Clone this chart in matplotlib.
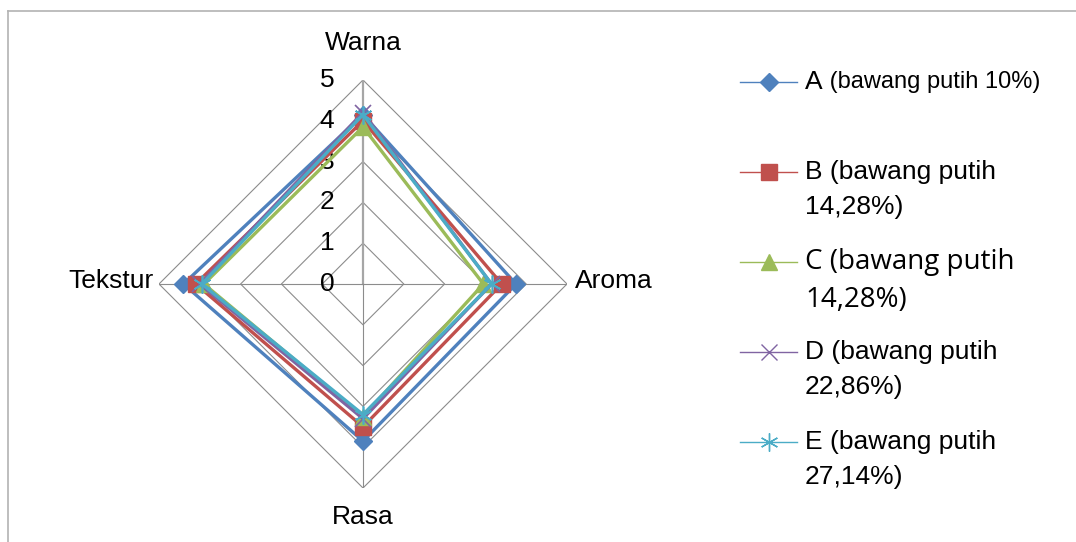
import numpy as np
import matplotlib
matplotlib.use("Agg")
import matplotlib.pyplot as plt
from matplotlib.lines import Line2D

plt.rcParams['font.family'] = ['Liberation Sans', 'DejaVu Sans']

# data
kategori = ['Warna', 'Aroma', 'Rasa', 'Tekstur']
nilai_A = [4.15, 3.75, 3.85, 4.40]
nilai_B = [4.00, 3.40, 3.50, 4.10]
nilai_C = [3.85, 2.95, 3.25, 3.90]
nilai_D = [4.20, 3.15, 3.30, 4.00]
nilai_E = [4.15, 3.15, 3.20, 3.95]
skala = [0, 1, 2, 3, 4, 5]

seri = [
    ('A', ' (bawang putih 10%)', None, nilai_A, '#4F81BD', 'D', 9),
    ('B (bawang putih', '14,28%)', None, nilai_B, '#C0504D', 's', 12),
    ('C (bawang putih', '14,28%)', 'Open Sans', nilai_C, '#9BBB59', '^', 12),
    ('D (bawang putih', '22,86%)', None, nilai_D, '#8064A2', 'x', 12),
    ('E (bawang putih', '27,14%)', None, nilai_E, '#4BACC6', (6, 2, 0), 13),
]

W, H = 1076, 542
fig = plt.figure(figsize=(W / 100, H / 100), dpi=100)

# polar axes, centre about (363, 284) px, radius 5 ~ 204 px
cx, cy, R = 363, 284, 204
ax = fig.add_axes([(cx - R) / W, (H - cy - R) / H, 2 * R / W, 2 * R / H],
                  projection='polar')
ax.set_theta_offset(np.pi / 2)
ax.set_theta_direction(-1)
ax.set_ylim(0, 5)
ax.grid(False)
ax.spines['polar'].set_visible(False)
ax.set_xticks([])
ax.set_yticks([])
ax.patch.set_alpha(0)

sudut = np.linspace(0, 2 * np.pi, len(kategori), endpoint=False)
sudut_tutup = np.append(sudut, sudut[0])

# polygon grid
for r in skala[1:]:
    ax.plot(sudut_tutup, [r] * (len(kategori) + 1), color='#8C8C8C', lw=0.8, zorder=1)
for i, a in enumerate(sudut):
    ax.plot([a, a], [0, 5], color='#A6A6A6' if i == 0 else '#8C8C8C',
            lw=1.6 if i == 0 else 0.8, zorder=1)

for v in skala:
    ax.annotate(str(v), xy=(0, v), xytext=(-36, 0), textcoords='offset pixels',
                ha='center', va='center', fontsize=19, annotation_clip=False)

# category labels
ax.annotate(kategori[0], xy=(sudut[0], 5), xytext=(0, 37), textcoords='offset pixels',
            ha='center', va='center', fontsize=19, annotation_clip=False)
ax.annotate(kategori[1], xy=(sudut[1], 5), xytext=(8, 3), textcoords='offset pixels',
            ha='left', va='center', fontsize=19, annotation_clip=False)
ax.annotate(kategori[2], xy=(sudut[2], 5), xytext=(0, -29), textcoords='offset pixels',
            ha='center', va='center', fontsize=19, annotation_clip=False)
ax.annotate(kategori[3], xy=(sudut[3], 5), xytext=(-5, 3), textcoords='offset pixels',
            ha='right', va='center', fontsize=19, annotation_clip=False)

for i, (nama, baris2, fam, nilai, warna, mk, ms) in enumerate(seri):
    vals = np.append(nilai, nilai[0])
    ax.plot(sudut_tutup, vals, color=warna, lw=2.4, zorder=3 + i)
    ax.plot(sudut, nilai, ls='none', marker=mk, ms=ms, color=warna, mec=warna,
            mew=1.2 if mk in ('x', (6, 2, 0)) else 1, zorder=3 + i, clip_on=False)

# legend drawn by hand
def fx(x):
    return x / W

def fy(y):
    return 1 - y / H

for i, (nama, baris2, fam, nilai, warna, mk, ms) in enumerate(seri):
    y = 82 + 90 * i
    fig.add_artist(Line2D([fx(740), fx(797)], [fy(y), fy(y)], color=warna, lw=1))
    fig.add_artist(Line2D([fx(768.5)], [fy(y)], ls='none', marker=mk, ms=ms,
                          color=warna, mec=warna, mew=1))
    keluarga = [fam, 'DejaVu Sans'] if fam else ['Liberation Sans', 'DejaVu Sans']
    uk = 20 if fam else 19
    if i == 0:
        t = fig.text(fx(805), fy(y), nama, fontsize=19, va='center', ha='left')
        fig.canvas.draw()
        bb = t.get_window_extent()
        fig.text(bb.x1 / W, fy(y), baris2, fontsize=17, va='center', ha='left')
    else:
        fig.text(fx(805), fy(y), nama, fontsize=uk, family=keluarga, va='center', ha='left')
        fig.text(fx(805), fy(y + (38 if fam else 35)), baris2, fontsize=uk,
                 family=keluarga, va='center', ha='left')

# outer frame (top and left edge only visible)
fig.add_artist(Line2D([fx(8), 1], [fy(11), fy(11)], color='#B3B3B3', lw=1.2))
fig.add_artist(Line2D([fx(8), fx(8)], [0, fy(11)], color='#B3B3B3', lw=1.2))

fig.savefig('out.png', dpi=100)
